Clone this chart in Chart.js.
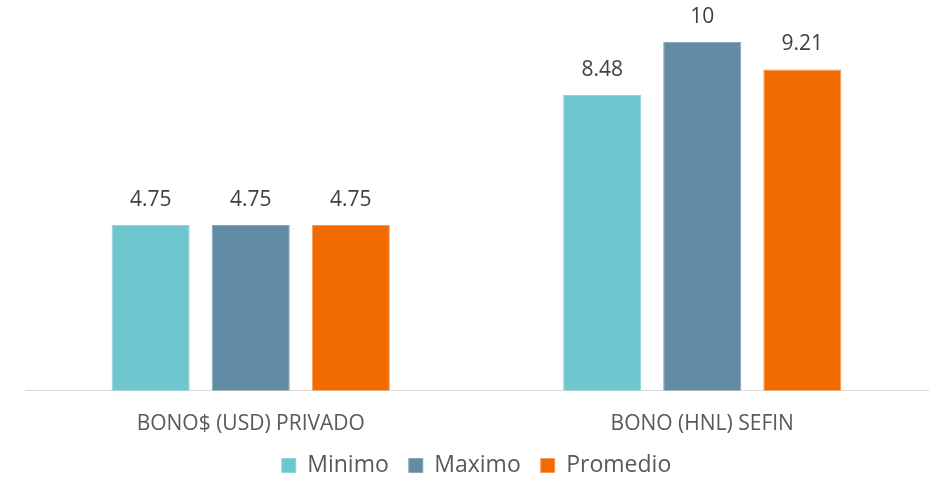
<!DOCTYPE html>
<html>
<head>
<meta charset="utf-8">
<script src="https://cdn.jsdelivr.net/npm/chart.js@4.4.0/dist/chart.umd.min.js"></script>
<style>
  html, body { margin: 0; padding: 0; background: #fff; }
  #wrap { width: 929px; height: 477px; position: relative; }
</style>
</head>
<body>
<div id="wrap"><canvas id="chart"></canvas></div>
<script>
'use strict';
// ── Données ────────────────────────────────────────────────────────────────
const categories = ['BONO$ (USD) PRIVADO', 'BONO (HNL) SEFIN'];
const minimo   = [4.75, 8.48];
const maximo   = [4.75, 10];
const promedio = [4.75, 9.21];

// ── Étiquettes de valeur au-dessus des barres ─────────────────────────────
const valueLabels = {
  id: 'valueLabels',
  afterDatasetsDraw(chart) {
    const ctx = chart.ctx;
    ctx.save();
    ctx.font = '21px "Open Sans"';
    ctx.fillStyle = '#404040';
    ctx.textAlign = 'center';
    ctx.textBaseline = 'middle';
    chart.data.datasets.forEach((ds, i) => {
      chart.getDatasetMeta(i).data.forEach((bar, j) => {
        ctx.fillText(String(ds.data[j]), bar.x, bar.y - 25);
      });
    });
    ctx.restore();
  }
};

new Chart(document.getElementById('chart'), {
  type: 'bar',
  data: {
    labels: categories,
    datasets: [
      { label: 'Minimo',   data: minimo,   backgroundColor: '#6EC6CE', borderColor: '#8fd4da', borderWidth: 1 },
      { label: 'Maximo',   data: maximo,   backgroundColor: '#628BA5', borderColor: '#86a6ba', borderWidth: 1 },
      { label: 'Promedio', data: promedio, backgroundColor: '#F26B00', borderColor: '#f59a55', borderWidth: 1 },
    ],
  },
  options: {
    responsive: true,
    maintainAspectRatio: false,
    animation: false,
    layout: { padding: { left: 25, right: 1, top: 7, bottom: -10 } },
    datasets: { bar: { categoryPercentage: 0.665, barPercentage: 0.78 } },
    plugins: {
      legend: {
        position: 'bottom',
        padding: 0,
        labels: { boxWidth: 14, boxHeight: 14, padding: 20, color: '#595959', font: { family: 'Open Sans', size: 23 } },
      },
      tooltip: { enabled: false },
    },
    scales: {
      y: { display: false, min: 0, max: 11 },
      x: {
        grid: { display: false },
        border: { display: true, color: '#d9d9d9', width: 1 },
        ticks: { color: '#595959', padding: 13, font: { family: 'Open Sans', size: 21 } },
        afterFit: (scale) => { scale.height -= 16; },
      },
    },
  },
  plugins: [valueLabels],
});
</script>
</body>
</html>
